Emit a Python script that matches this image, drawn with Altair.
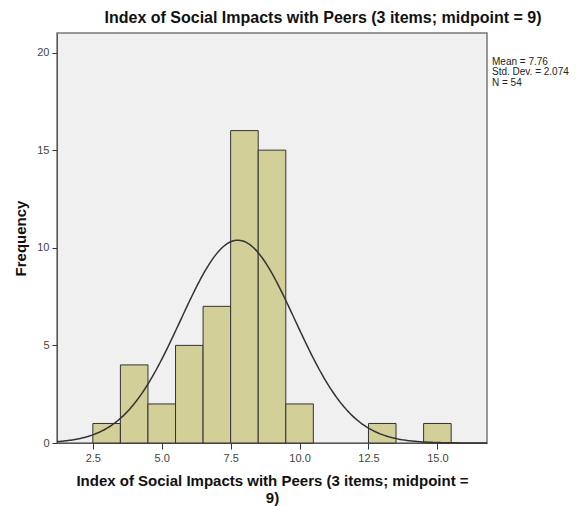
import altair as alt
import pandas as pd

# Histogram bins (centre of each unit-width bin) and frequencies
bin_centers = [3, 4, 5, 6, 7, 8, 9, 10, 13, 15]
frequencies = [1, 4, 2, 5, 7, 16, 15, 2, 1, 1]

# Summary statistics
mean_val = 7.76
sd_val = 2.074
n_val = 54
stat_lines = ["Mean = 7.76", "Std. Dev. = 2.074", "N = 54"]

x_ticks = [2.5, 5.0, 7.5, 10.0, 12.5, 15.0]
y_ticks = [0, 5, 10, 15, 20]
x_domain = [1.2, 16.8]
y_domain = [0, 21]

FONT = "Liberation Sans"

df = pd.DataFrame({"center": bin_centers, "count": frequencies})

xscale = alt.Scale(domain=x_domain, nice=False, zero=False)
yscale = alt.Scale(domain=y_domain, nice=False)

x_axis = alt.Axis(
    values=x_ticks, format=".1f", grid=False, tickSize=6, tickColor="#333",
    domainColor="#555", labelColor="#444", labelFontSize=11, labelFont=FONT,
    title=["Index of Social Impacts with Peers (3 items; midpoint =", "9)"],
    titleFont=FONT, titleFontSize=15, titleFontWeight="bold", titleColor="#111",
    titlePadding=10, titleLineHeight=17, labelPadding=3,
)
y_axis = alt.Axis(
    values=y_ticks, grid=False, tickSize=5, tickColor="#333",
    domainColor="#555", labelColor="#444", labelFontSize=11, labelFont=FONT,
    title="Frequency", titleFont=FONT, titleFontSize=15, titleFontWeight="bold",
    titleColor="#111", titlePadding=8, labelPadding=3,
)

bars = alt.Chart(df).transform_calculate(
    x0="datum.center - 0.5", x1="datum.center + 0.5"
).mark_rect(fill="#d3cf98", stroke="#333", strokeWidth=1).encode(
    x=alt.X("x0:Q", scale=xscale, axis=x_axis),
    x2="x1:Q",
    y=alt.Y("count:Q", scale=yscale, axis=y_axis),
    y2=alt.datum(0),
)

curve = alt.Chart(alt.sequence(x_domain[0], x_domain[1] + 0.01, 0.05, as_="xv")).transform_calculate(
    yv=f"{n_val} * densityNormal(datum.xv, {mean_val}, {sd_val})"
).mark_line(color="#333", strokeWidth=1.5).encode(
    x=alt.X("xv:Q", scale=xscale),
    y=alt.Y("yv:Q", scale=yscale),
)

stats = [
    alt.Chart(pd.DataFrame({"t": [line]})).mark_text(
        align="left", baseline="middle", font=FONT, fontSize=10, color="#222"
    ).encode(text="t:N", x=alt.value(435), y=alt.value(29 + 10.3 * i))
    for i, line in enumerate(stat_lines)
]

chart = alt.layer(bars, curve, *stats).properties(
    width=430,
    height=410,
    autosize=alt.AutoSizeParams(type="none"),
    padding={"left": 49, "top": 25, "right": 85, "bottom": 63},
    title=alt.TitleParams(
        "Index of Social Impacts with Peers (3 items; midpoint = 9)",
        font=FONT, fontSize=16, fontWeight="bold", color="#111",
        anchor="middle", dx=51, offset=7,
    ),
).configure_view(fill="#f0f0f0", stroke="#777", strokeWidth=1.5)

chart.save("out.html", embed_options={"renderer": "svg", "actions": False})
